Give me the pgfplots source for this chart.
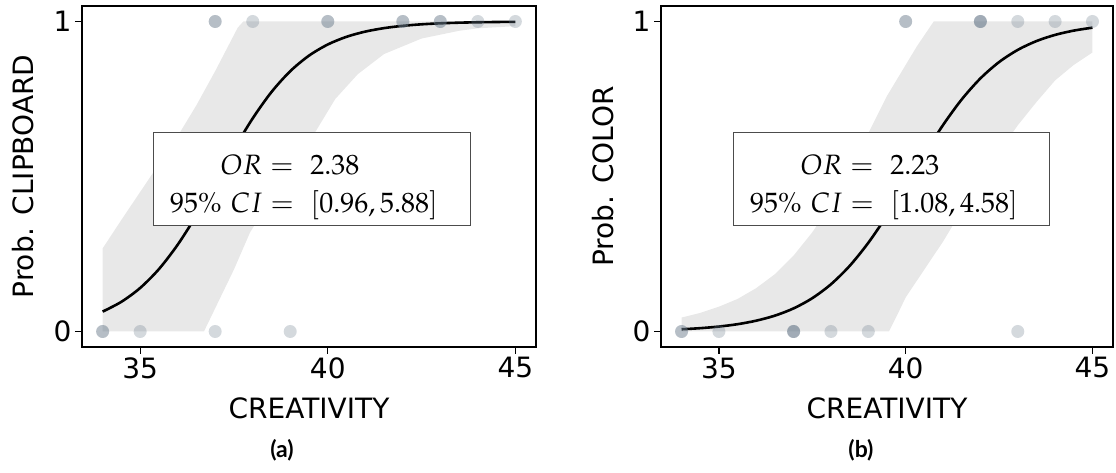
\documentclass[border=0pt]{standalone}
\usepackage{mathpazo}
\usepackage[no-math]{fontspec}
\setmainfont{DejaVu Sans}
\newfontfamily\capfont{Lato}
\usepackage{pgfplots}
\pgfplotsset{compat=1.18}
\definecolor{slate}{RGB}{112,128,144}
\definecolor{band}{RGB}{232,232,232}
\newcommand{\lblfont}{\fontsize{28}{34}\selectfont}
\pgfplotsset{myax/.style={
  scale only axis, height=341pt, anchor=south west,
  xmin=33.45, xmax=45.55, ymin=-0.05, ymax=1.05,
  xtick={35,40,45}, ytick={0,1},
  tick align=outside, tick pos=left, major tick length=7pt,
  every tick/.style={black, line width=1.3pt},
  axis line style={line width=1.3pt},
  ticklabel style={font=\lblfont},
  /pgf/number format/assume math mode=true,
  label style={font=\lblfont},
  xlabel style={at={(axis description cs:0.5,-0.2111)}, anchor=base},
  pts/.style={only marks, mark=*, mark size=6.5pt, draw opacity=0,
    mark options={draw=slate, draw opacity=0, line width=0pt, fill=slate, fill opacity=0.3}},
}}
\begin{document}
\begin{tikzpicture}
\path[use as bounding box] (0,0) rectangle (1116pt,473pt);
% ---------- (a) ----------
\begin{axis}[myax, width=454pt, at={(82pt,126pt)},
  xlabel={CREATIVITY}, ylabel={Prob. CLIPBOARD},
  ylabel style={at={(axis description cs:-0.1079,0.5)}, anchor=base}]
\addplot[fill=band, draw=none] coordinates {
 (34,0) (34,0.268) (34.5,0.36) (35,0.45) (35.5,0.54) (36,0.63) (36.5,0.73) (37,0.84) (37.3,0.91) (37.6,0.98) (37.75,1.0) (45,1.0)
 (45,0.985) (44,0.978) (43.5,0.97) (42.5,0.945) (41.5,0.895) (40.8,0.83) (40.2,0.75) (39.65,0.64) (39,0.53) (38.5,0.43) (37.93,0.32) (37.5,0.2) (37,0.075) (36.7,0)
} -- cycle;
\addplot[pts] coordinates {
 (37,1) (37,1) (38,1) (40,1) (40,1) (42,1) (42,1) (43,1) (43,1) (44,1) (45,1)
 (34,0) (34,0) (35,0) (37,0) (39,0)
};
\addplot[black, line width=2.6pt, smooth] coordinates {
 (34,0.0642) (34.5,0.0958) (35,0.1404) (35.5,0.2012) (36,0.2799) (36.5,0.3748) (37,0.4805) (37.5,0.5880) (38,0.6876) (38.5,0.7725) (39,0.8397) (39.5,0.8899) (40,0.9258) (40.5,0.9506) (41,0.9674) (41.5,0.9786) (42,0.9860) (42.5,0.9909) (43,0.9941) (43.5,0.9962) (44,0.9975) (44.5,0.9984) (45,0.9990)
};
\end{axis}
% ---------- (b) ----------
\begin{axis}[myax, width=452pt, at={(661pt,126pt)},
  xlabel={CREATIVITY}, ylabel={Prob. COLOR},
  ylabel style={at={(axis description cs:-0.1062,0.5)}, anchor=base}]
\addplot[fill=band, draw=none] coordinates {
 (34,0) (34,0.045) (34.5,0.06) (35,0.08) (35.5,0.105) (36,0.14) (36.5,0.185) (37,0.245) (37.5,0.32) (38,0.41) (38.5,0.52) (39,0.64) (39.5,0.76) (40,0.86) (40.3,0.92) (40.75,1.0) (45,1.0)
 (45,0.90) (44.5,0.86) (44,0.81) (43.5,0.74) (43,0.665) (42.5,0.58) (42,0.49) (41.5,0.39) (41,0.29) (40.5,0.2) (40,0.11) (39.8,0.06) (39.55,0)
} -- cycle;
\addplot[pts] coordinates {
 (40,1) (40,1) (42,1) (42,1) (42,1) (43,1) (44,1) (45,1)
 (34,0) (34,0) (35,0) (37,0) (37,0) (37,0) (38,0) (39,0) (43,0)
};
\addplot[black, line width=2.6pt, smooth] coordinates {
 (34,0.0072) (34.5,0.0107) (35,0.0159) (35.5,0.0236) (36,0.0349) (36.5,0.0512) (37,0.0746) (37.5,0.1075) (38,0.1524) (38.5,0.2116) (39,0.2862) (39.5,0.3745) (40,0.4720) (40.5,0.5718) (41,0.6660) (41.5,0.7486) (42,0.8164) (42.5,0.8691) (43,0.9084) (43.5,0.9368) (44,0.9568) (44.5,0.9706) (45,0.9801)
};
\end{axis}
% ---------- text boxes ----------
\draw[line width=1pt, draw=black!70, fill=white] (153pt,247pt) rectangle (470pt,340pt);
\node[anchor=base, inner sep=0pt] at (290pt,298pt) {\fontsize{28}{38}\selectfont $OR =\ 2.38$};
\node[anchor=base, inner sep=0pt] at (304pt,260pt) {\fontsize{28}{38}\selectfont $95\%\ CI =\ [0.96, 5.88]$};
\draw[line width=1pt, draw=black!70, fill=white] (733pt,247pt) rectangle (1049pt,340pt);
\node[anchor=base, inner sep=0pt] at (870pt,298pt) {\fontsize{28}{38}\selectfont $OR =\ 2.23$};
\node[anchor=base, inner sep=0pt] at (884pt,260pt) {\fontsize{28}{38}\selectfont $95\%\ CI =\ [1.08, 4.58]$};
% ---------- captions ----------
\node[anchor=base, inner sep=0pt] at (282pt,15pt) {\capfont\bfseries\fontsize{23}{27}\selectfont (a)};
\node[anchor=base, inner sep=0pt] at (861pt,15pt) {\capfont\bfseries\fontsize{23}{27}\selectfont (b)};
\end{tikzpicture}
\end{document}
